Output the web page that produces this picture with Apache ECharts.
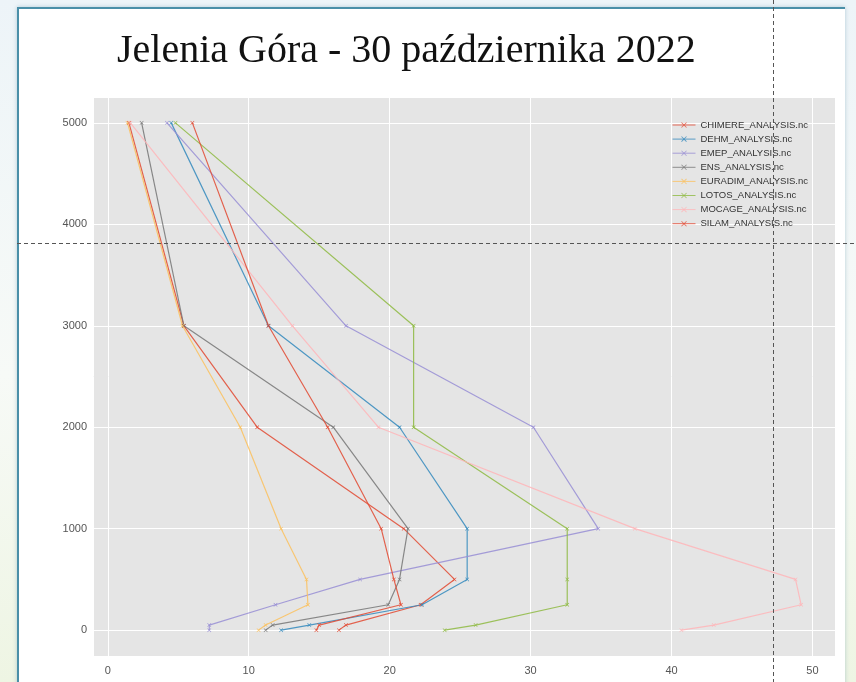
<!DOCTYPE html>
<html>
<head>
<meta charset="utf-8">
<script src="https://cdn.jsdelivr.net/npm/echarts@6/dist/echarts.min.js"></script>
<style>
  html, body { margin: 0; padding: 0; width: 856px; height: 682px; overflow: hidden;
    background: linear-gradient(180deg, #edf4f8 0%, #f7faf7 55%, #eef5e3 100%); }
  #frame { position: absolute; left: 17px; top: 7px; width: 826px; height: 700px; background: #fff;
    border-left: 2px solid #4a8fa8; border-top: 2px solid #4a8fa8; box-shadow: 0 0 4px rgba(60,120,150,0.35); }
  #chart { position: absolute; left: 0; top: 0; width: 856px; height: 682px; }
</style>
</head>
<body>
<div id="frame"></div>
<div id="chart"></div>
<script>
// heights (m) and model values
const levels = [0, 50, 250, 500, 1000, 2000, 3000, 5000];

const chimere = [16.4, 16.9, 22.2, 24.6, 21.0, 10.6, 5.4, 1.5];
const dehm    = [12.3, 14.3, 22.3, 25.5, 25.5, 20.7, 11.4, 4.5];
const emep    = [7.2, 7.2, 11.9, 17.9, 34.8, 30.2, 16.9, 4.2];
const ens     = [11.2, 11.7, 19.9, 20.7, 21.3, 16.0, 5.4, 2.4];
const euradim = [10.7, 11.2, 14.2, 14.1, 12.3, 9.4, 5.3, 1.4];
const lotos   = [23.9, 26.1, 32.6, 32.6, 32.6, 21.7, 21.7, 4.8];
const mocage  = [40.7, 43.0, 49.2, 48.8, 37.4, 19.2, 13.1, 1.6];
const silam   = [14.8, 15.0, 20.8, 20.3, 19.4, 15.6, 11.4, 6.0];

const names = ['CHIMERE_ANALYSIS.nc', 'DEHM_ANALYSIS.nc', 'EMEP_ANALYSIS.nc', 'ENS_ANALYSIS.nc',
  'EURADIM_ANALYSIS.nc', 'LOTOS_ANALYSIS.nc', 'MOCAGE_ANALYSIS.nc', 'SILAM_ANALYSIS.nc'];
const values = [chimere, dehm, emep, ens, euradim, lotos, mocage, silam];
const colors = ['#E24A33', '#348ABD', '#988ED5', '#777777', '#FBC15E', '#8EBA42', '#FFB5B8', '#E24A33'];

const xMark = 'path://M0,1L1,0L5,4L9,0L10,1L6,5L10,9L9,10L5,6L1,10L0,9L4,5Z';

const series = names.map((name, k) => ({
  name: name,
  type: 'line',
  data: values[k].map((v, i) => [v, levels[i]]),
  symbol: xMark,
  symbolSize: 4,
  showSymbol: true,
  lineStyle: { width: 1.2, opacity: 0.85 },
  itemStyle: { color: colors[k] },
  emphasis: { disabled: true }
}));

const chart = echarts.init(document.getElementById('chart'), null, { renderer: 'canvas' });
chart.setOption({
  animation: false,
  backgroundColor: 'transparent',
  title: {
    text: 'Jelenia Góra - 30 października 2022',
    left: 112,
    top: 26,
    textStyle: { fontFamily: 'Liberation Serif', fontSize: 40, fontWeight: 'normal', color: '#111' }
  },
  grid: {
    left: 93, top: 97, right: 21, bottom: 26,
    show: true, backgroundColor: '#E5E5E5', borderWidth: 0
  },
  legend: {
    data: names,
    orient: 'vertical',
    left: 672,
    top: 120,
    padding: 0,
    itemWidth: 23,
    itemHeight: 7,
    itemGap: 4.1,
    itemStyle: { opacity: 0.8 },
    lineStyle: { width: 1, opacity: 0.8 },
    textStyle: { fontFamily: 'Liberation Sans', fontSize: 9.5, lineHeight: 10, color: '#333' }
  },
  xAxis: {
    type: 'value',
    min: -1.05,
    max: 51.6,
    splitNumber: 5,
    axisLine: { show: false },
    axisTick: { show: false },
    axisLabel: { color: '#555', fontFamily: 'Liberation Sans', fontSize: 11, margin: 9,
      showMinLabel: false, showMaxLabel: false },
    splitLine: { lineStyle: { color: '#fff', width: 1 } }
  },
  yAxis: {
    type: 'value',
    min: -255,
    max: 5255,
    splitNumber: 5,
    axisLine: { show: false },
    axisTick: { show: false },
    axisLabel: { color: '#555', fontFamily: 'Liberation Sans', fontSize: 11, margin: 6,
      showMinLabel: false, showMaxLabel: false, formatter: v => String(v) },
    splitLine: { lineStyle: { color: '#fff', width: 1 } }
  },
  graphic: [
    { type: 'line', z: 100, shape: { x1: 773.5, y1: 0, x2: 773.5, y2: 682 },
      style: { stroke: '#555', lineWidth: 1, lineDash: [4, 3] } },
    { type: 'line', z: 100, shape: { x1: 17, y1: 243.5, x2: 856, y2: 243.5 },
      style: { stroke: '#555', lineWidth: 1, lineDash: [4, 3] } }
  ],
  series: series
});
</script>
</body>
</html>
